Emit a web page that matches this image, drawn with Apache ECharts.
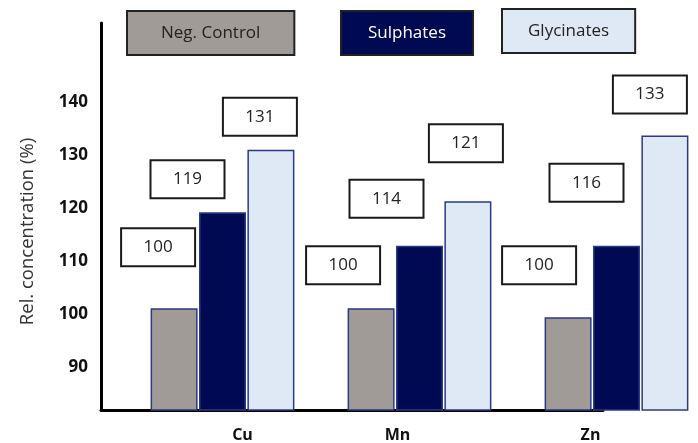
<!DOCTYPE html>
<html>
<head>
<meta charset="utf-8">
<script src="https://cdn.jsdelivr.net/npm/echarts@6/dist/echarts.min.js"></script>
<style>html,body{margin:0;padding:0;background:#fff}#c{width:698px;height:443px}</style>
</head>
<body>
<div id="c"></div>
<script>
const categories = ['Cu', 'Mn', 'Zn'];
const seriesNames = ['Neg. Control', 'Sulphates', 'Glycinates'];
const negControl = [101.2, 101.2, 99.5];
const sulphates = [119.3, 113.0, 113.0];
const glycinates = [131.1, 121.4, 133.8];
const negLabels = [100, 100, 100];
const sulphLabels = [119, 114, 116];
const glycLabels = [131, 121, 133];
const yTicks = [90, 100, 110, 120, 130, 140];

const FONT = 'Open Sans';
const colors = ['#a09b96', '#000a52', '#dfe9f5'];
const textColors = ['#222', '#fff', '#222'];
// layout nudges for the hand-placed value boxes (per series, per category)
const nudges = [
  [[-16, -43], [-28, -25], [-29, -34]],
  [[-35, -15], [-33, -29], [-30, -45]],
  [[-11, -15], [-2, -40], [-15, -23]]
];
const catShift = [20, -22, -26];

const values = [negControl, sulphates, glycinates];
const labels = [negLabels, sulphLabels, glycLabels];

const series = seriesNames.map((name, s) => ({
  name: name,
  type: 'bar',
  xAxisIndex: 0,
  yAxisIndex: 0,
  barWidth: 47,
  barGap: '3%',
  itemStyle: { color: colors[s], borderColor: '#2b3a86', borderWidth: 1.5 },
  label: {
    show: true,
    position: 'top',
    distance: 0,
    width: 72,
    height: 36,
    lineHeight: 36,
    align: 'center',
    backgroundColor: '#fff',
    borderColor: '#1a1a1a',
    borderWidth: 2,
    fontFamily: FONT,
    fontSize: 17,
    color: '#222',
    formatter: p => String(labels[s][p.dataIndex])
  },
  data: values[s].map((v, i) => ({ value: v, label: { offset: nudges[s][i] } }))
}));

const legendPos = [
  { left: 117, top: 5, padX: 33 },
  { left: 331, top: 5, padX: 26 },
  { left: 492, top: 3, padX: 25 }
];
const legends = seriesNames.map((name, s) => ({
  left: legendPos[s].left,
  top: legendPos[s].top,
  itemWidth: 0,
  itemHeight: 0,
  icon: 'rect',
  selectedMode: false,
  data: [{
    name: name,
    textStyle: {
      backgroundColor: colors[s],
      color: textColors[s],
      borderColor: '#222',
      borderWidth: 2,
      padding: [0, legendPos[s].padX],
      lineHeight: 42,
      fontFamily: FONT,
      fontSize: 17
    }
  }]
}));

const chart = echarts.init(document.getElementById('c'));
chart.setOption({
  animation: false,
  legend: legends,
  grid: [
    { left: 124, width: 591, top: 23, bottom: 33, outerBoundsMode: 'none', containLabel: false },
    { left: 101, right: 95, top: 23, bottom: 33, outerBoundsMode: 'none', containLabel: false }
  ],
  xAxis: [
    {
      type: 'category', gridIndex: 0, data: categories,
      axisLine: { show: false }, axisTick: { show: false },
      axisLabel: {
        margin: 17,
        formatter: (v, i) => '{c' + i + '|' + v + '}',
        rich: {
          c0: { fontFamily: FONT, fontWeight: 'bold', fontSize: 16, color: '#111', padding: [0, 0, 0, 2 * catShift[0]] },
          c1: { fontFamily: FONT, fontWeight: 'bold', fontSize: 16, color: '#111', padding: [0, -2 * catShift[1], 0, 0] },
          c2: { fontFamily: FONT, fontWeight: 'bold', fontSize: 16, color: '#111', padding: [0, -2 * catShift[2], 0, 0] }
        }
      }
    },
    {
      type: 'category', gridIndex: 1, data: [''],
      axisLine: { show: true, onZero: false, lineStyle: { color: '#000', width: 3 } },
      axisTick: { show: false }, axisLabel: { show: false }
    }
  ],
  yAxis: [
    {
      type: 'value', gridIndex: 0, min: 82, max: 155,
      show: false, splitLine: { show: false }
    },
    {
      type: 'value', gridIndex: 1, min: 82, max: 155,
      name: 'Rel. concentration (%)',
      nameLocation: 'middle',
      nameGap: 64,
      nameTextStyle: { fontFamily: FONT, fontSize: 18.5, color: '#333', padding: [0, 30, 0, 0] },
      axisLine: { show: true, lineStyle: { color: '#000', width: 3 } },
      axisTick: { show: false },
      splitLine: { show: false },
      axisLabel: {
        customValues: yTicks,
        margin: 13,
        fontFamily: FONT, fontWeight: 'bold', fontSize: 17, color: '#111'
      }
    }
  ],
  series: series
});
</script>
</body>
</html>
